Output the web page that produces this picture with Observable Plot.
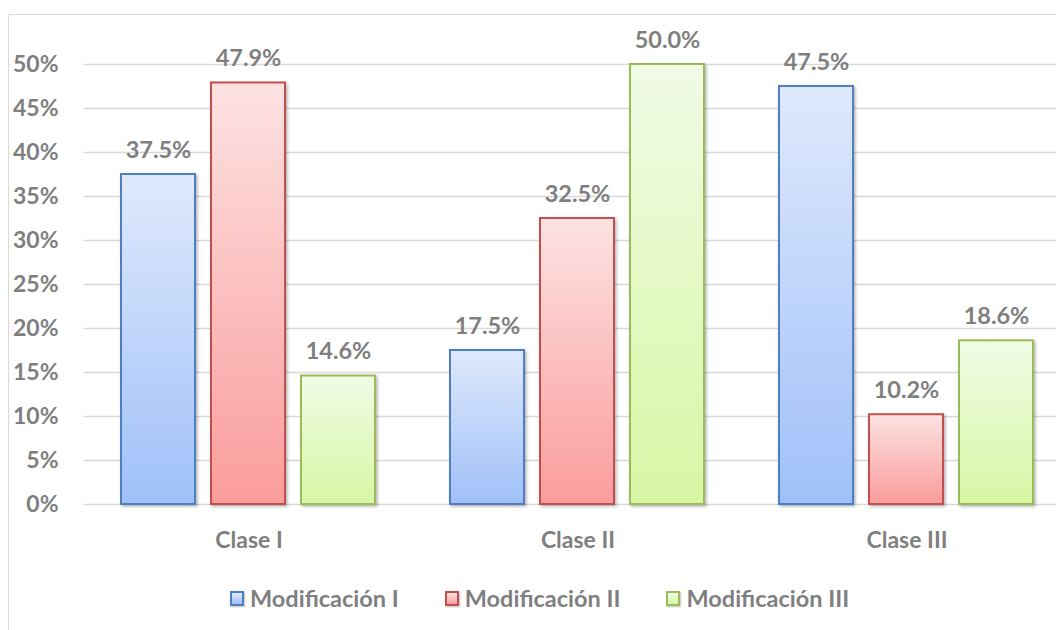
<!DOCTYPE html>
<html>
<head>
<meta charset="utf-8">
<script src="https://cdn.jsdelivr.net/npm/d3@7"></script>
<script src="https://cdn.jsdelivr.net/npm/@observablehq/plot@0.6"></script>
<style>
  html, body { margin: 0; padding: 0; background: #fff; width: 1056px; height: 630px; overflow: hidden; }
  #frame { position: absolute; left: 8px; top: 14px; width: 1100px; height: 640px; border: 1.5px solid #d9d9d9; box-sizing: border-box; }
  #chart { position: absolute; left: 0; top: 0; }
  #chart svg { background: transparent !important; max-width: none !important; overflow: visible; }
  #legend { position: absolute; left: 230px; top: 584px; display: flex; align-items: center; font-family: Lato, "Open Sans", sans-serif; font-weight: bold; font-size: 23.5px; color: #7f7f7f; }
  .item { display: flex; align-items: center; margin-right: 46px; }
  .sw { width: 14px; height: 15px; box-sizing: border-box; border: 2px solid; margin-right: 6px; box-shadow: 1px 1px 2px rgba(0,0,0,0.25); }
</style>
</head>
<body>
<div id="frame"></div>
<div id="chart"></div>
<div id="legend"></div>
<script>
const classes = ["Clase I", "Clase II", "Clase III"];
const series = ["Modificación I", "Modificación II", "Modificación III"];
const modI = [37.5, 17.5, 47.5];
const modII = [47.9, 32.5, 10.2];
const modIII = [14.6, 50.0, 18.6];
const yTicks = [0, 5, 10, 15, 20, 25, 30, 35, 40, 45, 50];

const strokes = ["#4f7ec3", "#c0504d", "#9bbb59"];
const gradTop = ["#dfe9fc", "#fde2e2", "#f1fbe6"];
const gradBot = ["#9fc0f8", "#fa9c9c", "#d6f7a4"];
const gradIds = ["gBlue", "gRed", "gGreen"];

const valuesBySeries = [modI, modII, modIII];
const rows = [];
series.forEach((s, si) => classes.forEach((c, ci) => rows.push({cls: c, series: s, si, value: valuesBySeries[si][ci] / 100})));

const marks = [
  Plot.ruleY(yTicks.map(t => t / 100), {stroke: "#d9d9d9", strokeWidth: 1.5})
];
series.forEach((s, si) => {
  const d = rows.filter(r => r.si === si);
  marks.push(Plot.barY(d, {fx: "cls", x: "series", y: "value", fill: `url(#${gradIds[si]})`, stroke: strokes[si], strokeWidth: 2, insetLeft: 0, insetRight: 0}));
});
marks.push(Plot.text(rows, {fx: "cls", x: "series", y: "value", text: d => (d.value * 100).toFixed(1) + "%", lineAnchor: "bottom", dy: -17, fill: "#7f7f7f", fontWeight: "bold", fontSize: 23.5}));

const chart = Plot.plot({
  width: 1071,
  height: 560,
  marginLeft: 84,
  marginRight: 0,
  marginTop: 64,
  marginBottom: 56,
  style: {fontFamily: "Lato, 'Open Sans', sans-serif", background: "transparent"},
  fx: {domain: classes, padding: 0, label: null, axis: "bottom", tickSize: 0, tickPadding: 27},
  x: {domain: series, axis: null, paddingInner: 0.176, paddingOuter: 0.4},
  y: {domain: [0, 0.5], ticks: yTicks.map(t => t / 100), tickFormat: d3.format(".0%"), tickSize: 0, tickPadding: 26, label: null},
  marks
});

const svg = d3.select(chart);
const defs = svg.insert("defs", ":first-child");
gradIds.forEach((id, i) => {
  const g = defs.append("linearGradient").attr("id", id).attr("x1", 0).attr("y1", 0).attr("x2", 0).attr("y2", 1);
  g.append("stop").attr("offset", "0%").attr("stop-color", gradTop[i]);
  g.append("stop").attr("offset", "100%").attr("stop-color", gradBot[i]);
});
const f = defs.append("filter").attr("id", "shadow").attr("x", "-10%").attr("y", "-10%").attr("width", "130%").attr("height", "130%");
f.append("feDropShadow").attr("dx", 1.5).attr("dy", 1.5).attr("stdDeviation", 1.5).attr("flood-opacity", 0.3);
svg.selectAll("rect").filter(function() { return (this.getAttribute("fill") || "").startsWith("url(") || (this.parentNode.getAttribute("fill") || "").startsWith("url("); }).attr("filter", "url(#shadow)");
svg.selectAll("[aria-label='y-axis tick label'], [aria-label='fx-axis tick label']")
  .attr("fill", "#7f7f7f").attr("font-weight", "bold").attr("font-size", 23);
document.getElementById("chart").appendChild(chart);

const legend = document.getElementById("legend");
series.forEach((s, i) => {
  const it = document.createElement("div");
  it.className = "item";
  const sw = document.createElement("div");
  sw.className = "sw";
  sw.style.borderColor = strokes[i];
  sw.style.background = `linear-gradient(${gradTop[i]}, ${gradBot[i]})`;
  const t = document.createElement("span");
  t.textContent = s;
  it.appendChild(sw); it.appendChild(t);
  legend.appendChild(it);
});
</script>
</body>
</html>
